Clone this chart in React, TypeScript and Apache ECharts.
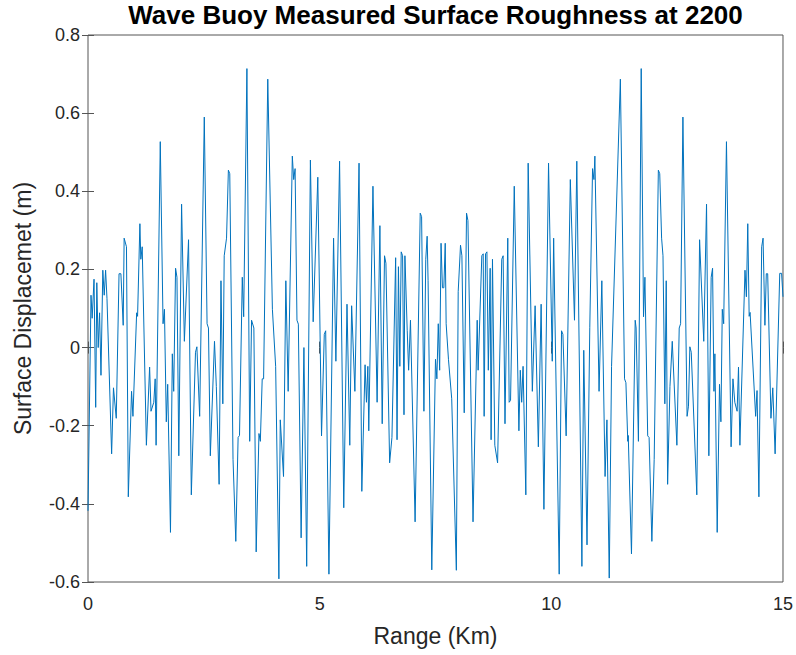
import React, { useEffect, useRef } from "react";
import * as echarts from "echarts";

const titleText = "Wave Buoy Measured Surface Roughness at 2200";
const xAxisTitle = "Range (Km)";
const yAxisTitle = "Surface Displacemet (m)";

const rangeKm = [
  0.0, 0.065, 0.09, 0.13, 0.166, 0.19, 0.22, 0.25, 0.28, 0.32, 0.35, 0.38, 0.41, 0.51, 0.55, 0.61, 0.67, 0.71, 0.76, 0.78,
  0.83, 0.87, 0.94, 0.97, 1.05, 1.07, 1.12, 1.14, 1.17, 1.26, 1.33, 1.36, 1.42, 1.45, 1.47, 1.56, 1.62, 1.65, 1.69, 1.72,
  1.78, 1.82, 1.85, 1.89, 1.92, 1.96, 2.02, 2.08, 2.17, 2.23, 2.32, 2.35, 2.41, 2.51, 2.57, 2.6, 2.64, 2.73, 2.77, 2.83,
  2.87, 2.91, 2.94, 2.99, 3.03, 3.06, 3.13, 3.19, 3.24, 3.27, 3.33, 3.36, 3.43, 3.49, 3.53, 3.58, 3.63, 3.69, 3.72, 3.76,
  3.79, 3.88, 3.98, 4.05, 4.12, 4.15, 4.22, 4.27, 4.32, 4.41, 4.44, 4.47, 4.51, 4.54, 4.6, 4.66, 4.72, 4.8, 4.86, 4.96,
  5.04, 5.1, 5.13, 5.2, 5.3, 5.35, 5.43, 5.52, 5.59, 5.65, 5.69, 5.76, 5.85, 5.91, 5.98, 6.01, 6.04, 6.06, 6.15, 6.24,
  6.3, 6.35, 6.4, 6.43, 6.51, 6.56, 6.64, 6.67, 6.7, 6.73, 6.76, 6.79, 6.82, 6.84, 6.89, 6.92, 6.96, 7.06, 7.17, 7.2,
  7.25, 7.29, 7.32, 7.34, 7.42, 7.5, 7.53, 7.56, 7.59, 7.62, 7.65, 7.68, 7.71, 7.73, 7.78, 7.85, 7.95, 7.99, 8.04, 8.07,
  8.12, 8.17, 8.2, 8.31, 8.4, 8.42, 8.5, 8.53, 8.55, 8.58, 8.61, 8.64, 8.68, 8.7, 8.73, 8.78, 8.84, 8.93, 8.96, 9.0,
  9.06, 9.09, 9.12, 9.2, 9.3, 9.33, 9.36, 9.39, 9.45, 9.5, 9.59, 9.65, 9.72, 9.78, 9.84, 9.94, 10.02, 10.05, 10.17, 10.22,
  10.25, 10.32, 10.41, 10.5, 10.55, 10.66, 10.7, 10.77, 10.83, 10.89, 10.92, 10.94, 11.03, 11.09, 11.16, 11.2, 11.25, 11.3, 11.49, 11.58,
  11.61, 11.65, 11.66, 11.73, 11.81, 11.83, 11.88, 11.94, 11.99, 12.02, 12.08, 12.11, 12.17, 12.22, 12.31, 12.34, 12.38, 12.41, 12.45, 12.48,
  12.51, 12.56, 12.61, 12.71, 12.76, 12.79, 12.84, 12.93, 12.96, 12.99, 13.02, 13.14, 13.2, 13.29, 13.35, 13.4, 13.45, 13.48, 13.51, 13.53,
  13.58, 13.63, 13.66, 13.69, 13.72, 13.78, 13.88, 13.92, 13.96, 14.01, 14.04, 14.07, 14.18, 14.21, 14.24, 14.27, 14.29, 14.41, 14.44, 14.48,
  14.54, 14.57, 14.61, 14.64, 14.67, 14.74, 14.78, 14.83, 14.93, 14.97, 15.0,
];

const displacement = [
  -0.418, 0.134, 0.075, 0.175, -0.153, 0.166, 0.0, 0.089, -0.071, 0.198, 0.134, 0.198, 0.125, -0.272, -0.103, -0.181, 0.189, 0.189, 0.057, 0.28,
  0.258, -0.382, -0.112, -0.176, 0.089, 0.08, 0.317, 0.226, 0.258, -0.25, -0.05, -0.163, -0.14, -0.08, -0.25, 0.527, 0.061, 0.098, -0.19, -0.094,
  -0.473, -0.016, -0.112, 0.203, 0.18, -0.277, 0.367, 0.016, 0.276, -0.377, -0.012, 0.002, -0.176, 0.59, 0.061, 0.05, -0.277, 0.016, -0.1, -0.35,
  0.171, -0.144, 0.235, 0.28, 0.454, 0.445, -0.286, -0.496, -0.23, -0.225, 0.18, 0.079, 0.714, -0.24, 0.07, 0.05, -0.523, -0.22, -0.24, -0.08,
  -0.08, 0.687, 0.098, -0.048, -0.592, -0.185, -0.33, 0.171, -0.112, 0.49, 0.43, 0.458, 0.07, 0.06, -0.487, 0.0, -0.56, 0.48, 0.066, 0.436,
  -0.226, 0.034, 0.043, -0.58, 0.28, -0.035, 0.477, -0.41, 0.111, -0.25, 0.107, -0.112, 0.472, -0.368, -0.044, -0.14, -0.048, -0.213, 0.413, -0.14,
  0.312, -0.195, 0.235, 0.216, -0.295, -0.23, 0.23, -0.236, 0.207, -0.048, 0.245, 0.235, -0.172, 0.235, 0.043, -0.058, 0.07, -0.446, 0.344, 0.335,
  -0.163, 0.226, 0.285, 0.171, -0.569, -0.03, -0.08, 0.061, -0.058, 0.267, 0.153, 0.153, 0.267, 0.061, -0.03, -0.131, -0.57, 0.143, 0.262, 0.235,
  -0.167, 0.344, 0.325, -0.446, 0.07, -0.058, 0.235, 0.24, -0.176, 0.24, 0.245, -0.058, 0.203, -0.236, 0.226, -0.25, -0.295, 0.226, 0.235, -0.195,
  0.28, -0.14, -0.135, 0.413, -0.213, -0.058, -0.14, -0.048, -0.377, 0.472, -0.112, 0.107, -0.254, 0.111, -0.414, 0.472, -0.035, 0.28, -0.58, 0.043,
  0.034, -0.226, 0.43, 0.07, 0.477, -0.56, -0.007, -0.505, 0.052, 0.458, 0.43, 0.49, -0.112, 0.171, -0.33, -0.185, -0.59, -0.048, 0.687, -0.08,
  -0.09, -0.24, -0.225, -0.528, 0.07, 0.05, -0.24, 0.714, 0.079, 0.18, -0.226, -0.23, -0.496, -0.286, 0.454, 0.445, 0.28, 0.235, -0.144, 0.171,
  -0.35, -0.1, 0.016, -0.25, 0.05, 0.061, 0.59, -0.176, -0.15, 0.002, -0.012, -0.377, 0.276, 0.016, 0.367, -0.277, 0.18, 0.203, -0.112, -0.016,
  -0.473, -0.094, -0.19, 0.098, 0.061, 0.527, -0.254, -0.08, -0.14, -0.163, -0.05, -0.25, 0.198, 0.13, 0.317, 0.08, 0.09, -0.176, -0.11, -0.382,
  0.258, 0.28, 0.057, 0.189, 0.189, -0.181, -0.103, -0.272, 0.19, 0.19, 0.13,
];

const xMin = 0;
const xMax = 15;
const xStep = 5;
const yMin = -0.6;
const yMax = 0.8;
const yStep = 0.2;

const FONT = "'Liberation Sans', Arial, Helvetica, sans-serif";
const AXIS_COLOR = "#262626";
const BOX_COLOR = "#555555";

export default function App() {
  const ref = useRef<HTMLDivElement | null>(null);

  useEffect(() => {
    document.body.style.margin = "0";
    if (!ref.current) return;
    const chart = echarts.init(ref.current, undefined, { renderer: "svg" });
    const data = rangeKm.map((x, i) => [x, displacement[i]]);
    const fmtY = (v: number) => {
      const r = Math.round(v * 10) / 10;
      return r === 0 ? "0" : String(r);
    };
    const tickCommon = {
      show: true,
      inside: true,
      length: 6,
      lineStyle: { color: BOX_COLOR, width: 1 },
    };
    chart.setOption({
      animation: false,
      backgroundColor: "#ffffff",
      grid: {
        left: 88,
        right: 13,
        top: 35,
        bottom: 73,
        show: true,
        borderColor: BOX_COLOR,
        borderWidth: 1,
        backgroundColor: "#ffffff",
      },
      graphic: [
        {
          type: "text",
          x: 435.5,
          y: 2,
          style: {
            text: titleText,
            fill: "#000000",
            font: `bold 26px ${FONT}`,
            textAlign: "center",
            textVerticalAlign: "top",
          },
        },
      ],
      xAxis: [
        {
          type: "value",
          min: xMin,
          max: xMax,
          interval: xStep,
          position: "bottom",
          name: xAxisTitle,
          nameLocation: "middle",
          nameGap: 42,
          nameTextStyle: { color: AXIS_COLOR, fontSize: 23, fontFamily: FONT },
          axisLine: { show: false },
          axisTick: tickCommon,
          splitLine: { show: false },
          axisLabel: { color: AXIS_COLOR, fontSize: 18, fontFamily: FONT, margin: 13 },
        },
        {
          type: "value",
          min: xMin,
          max: xMax,
          interval: xStep,
          position: "top",
          axisLine: { show: false },
          axisTick: tickCommon,
          splitLine: { show: false },
          axisLabel: { show: false },
        },
      ],
      yAxis: [
        {
          type: "value",
          min: yMin,
          max: yMax,
          interval: yStep,
          position: "left",
          name: yAxisTitle,
          nameLocation: "middle",
          nameGap: 54,
          nameTextStyle: { color: AXIS_COLOR, fontSize: 23, fontFamily: FONT },
          axisLine: { show: false },
          axisTick: tickCommon,
          splitLine: { show: false },
          axisLabel: { color: AXIS_COLOR, fontSize: 18, fontFamily: FONT, margin: 8, formatter: fmtY },
        },
        {
          type: "value",
          min: yMin,
          max: yMax,
          interval: yStep,
          position: "right",
          axisLine: { show: false },
          axisTick: tickCommon,
          splitLine: { show: false },
          axisLabel: { show: false },
        },
      ],
      series: [
        {
          type: "line",
          xAxisIndex: 0,
          yAxisIndex: 0,
          data,
          showSymbol: false,
          symbol: "none",
          lineStyle: { color: "#0072BD", width: 1 },
          itemStyle: { color: "#0072BD" },
        },
      ],
    });
    return () => chart.dispose();
  }, []);

  return <div ref={ref} style={{ position: "absolute", left: 0, top: 0, width: 796, height: 655 }} />;
}
